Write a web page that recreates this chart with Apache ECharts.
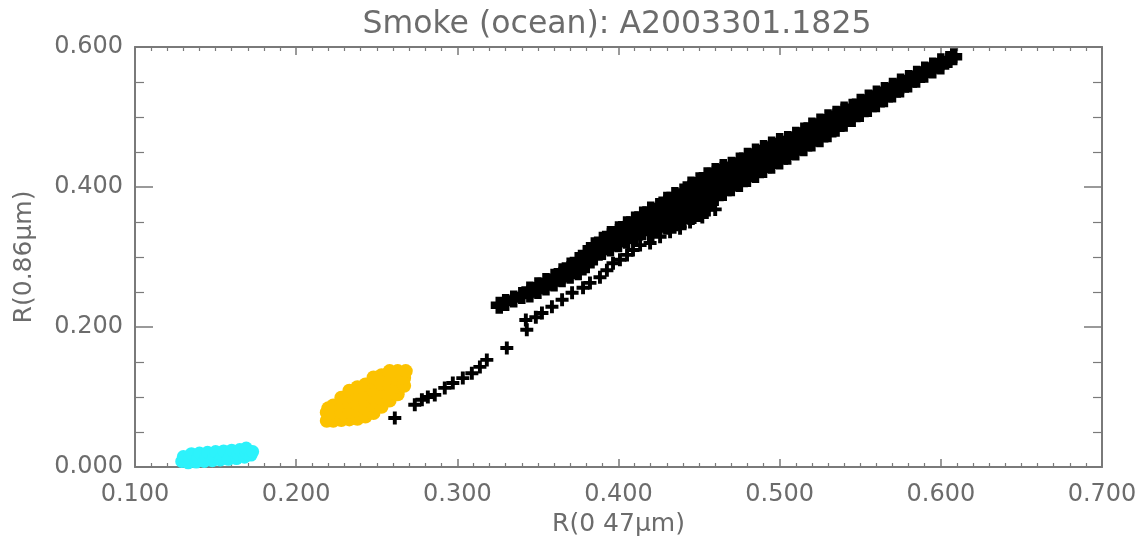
<!DOCTYPE html>
<html>
<head>
<meta charset="utf-8">
<script src="https://cdn.jsdelivr.net/npm/echarts@6/dist/echarts.min.js"></script>
<style>html,body{margin:0;padding:0;background:#fff;}#c{width:1140px;height:543px;}</style>
</head>
<body>
<div id="c"></div>
<script>
const titleText = 'Smoke (ocean): A2003301.1825';
const xName = 'R(0 47μm)';
const yName = 'R(0.86μm)';
const xTickLabels = ['0.100','0.200','0.300','0.400','0.500','0.600','0.700'];
const yTickLabels = ['0.000','0.200','0.400','0.600'];

const cyanPts = [
[0.129,0.008],[0.130,0.015],[0.133,0.006],[0.134,0.012],[0.135,0.019],
[0.138,0.007],[0.139,0.013],[0.140,0.020],[0.143,0.008],[0.144,0.014],[0.145,0.021],
[0.148,0.009],[0.149,0.015],[0.150,0.022],[0.153,0.010],[0.154,0.016],[0.155,0.023],
[0.158,0.011],[0.159,0.017],[0.160,0.024],[0.163,0.012],[0.164,0.018],[0.165,0.025],
[0.168,0.014],[0.169,0.020],[0.169,0.027],[0.172,0.017],[0.173,0.022]
];

const orangePts = [
[0.219,0.066],[0.219,0.078],[0.220,0.084],
[0.223,0.066],[0.223,0.077],[0.223,0.088],
[0.228,0.067],[0.228,0.078],[0.228,0.089],[0.228,0.099],
[0.233,0.068],[0.233,0.079],[0.233,0.090],[0.233,0.101],[0.233,0.109],
[0.238,0.069],[0.238,0.080],[0.238,0.091],[0.238,0.102],[0.238,0.114],
[0.243,0.072],[0.243,0.083],[0.243,0.094],[0.243,0.105],[0.243,0.118],
[0.248,0.077],[0.248,0.088],[0.248,0.099],[0.248,0.110],[0.248,0.121],[0.248,0.128],
[0.253,0.086],[0.253,0.097],[0.253,0.108],[0.253,0.119],[0.253,0.131],
[0.258,0.095],[0.258,0.106],[0.258,0.117],[0.258,0.128],[0.258,0.137],
[0.263,0.104],[0.263,0.115],[0.263,0.126],[0.263,0.137],
[0.267,0.116],[0.267,0.127],[0.268,0.137]
];

const blackSparse = [
[0.2612,0.070],[0.2736,0.089],[0.2780,0.096],[0.2817,0.100],[0.2860,0.103],
[0.2922,0.113],[0.2972,0.120],[0.3034,0.127],[0.3090,0.134],[0.3140,0.143],[0.3183,0.153],
[0.3307,0.170],[0.3431,0.196],[0.3425,0.210],[0.3487,0.214],[0.3525,0.220],
[0.3587,0.229],[0.3650,0.239],[0.3712,0.249],[0.3780,0.256],[0.3823,0.263],
[0.3885,0.271],[0.3928,0.281],[0.3966,0.291],[0.4009,0.296],[0.4053,0.303],
[0.4090,0.310],[0.4134,0.317],[0.4196,0.320],[0.4258,0.329],[0.4320,0.336],
[0.4382,0.341],[0.4444,0.350],[0.4520,0.357],[0.4600,0.368]
];

const blackBand = [
[0.326,0.231],[0.330,0.235],[0.335,0.240],[0.340,0.245],
[0.345,0.247],[0.345,0.253],
[0.350,0.252],[0.350,0.259],
[0.355,0.257],[0.355,0.265],
[0.360,0.263],[0.360,0.271],
[0.365,0.269],[0.365,0.274],[0.365,0.279],
[0.370,0.274],[0.370,0.282],[0.370,0.287],
[0.375,0.279],[0.375,0.287],[0.375,0.295],
[0.380,0.289],[0.380,0.297],[0.380,0.305],
[0.385,0.300],[0.385,0.308],[0.385,0.316],
[0.390,0.308],[0.390,0.316],[0.390,0.324],
[0.395,0.313],[0.395,0.321],[0.395,0.329],[0.395,0.332],
[0.400,0.319],[0.400,0.327],[0.400,0.335],[0.400,0.339],
[0.405,0.324],[0.405,0.332],[0.405,0.340],[0.405,0.346],
[0.410,0.329],[0.410,0.337],[0.410,0.345],[0.410,0.353],
[0.415,0.336],[0.415,0.344],[0.415,0.352],[0.415,0.360],
[0.420,0.335],[0.420,0.343],[0.420,0.351],[0.420,0.359],[0.420,0.367],
[0.425,0.340],[0.425,0.348],[0.425,0.356],[0.425,0.364],[0.425,0.372],
[0.430,0.344],[0.430,0.352],[0.430,0.360],[0.430,0.368],[0.430,0.376],[0.430,0.381],
[0.435,0.349],[0.435,0.357],[0.435,0.365],[0.435,0.373],[0.435,0.381],[0.435,0.388],
[0.440,0.353],[0.440,0.361],[0.440,0.369],[0.440,0.377],[0.440,0.385],[0.440,0.393],
[0.445,0.358],[0.445,0.365],[0.445,0.373],[0.445,0.381],[0.445,0.389],[0.445,0.397],[0.445,0.403],
[0.450,0.362],[0.450,0.369],[0.450,0.377],[0.450,0.385],[0.450,0.393],[0.450,0.401],[0.450,0.409],
[0.455,0.370],[0.455,0.377],[0.455,0.385],[0.455,0.393],[0.455,0.401],[0.455,0.409],[0.455,0.416],
[0.460,0.385],[0.460,0.393],[0.460,0.401],[0.460,0.409],[0.460,0.417],[0.460,0.422],
[0.465,0.392],[0.465,0.400],[0.465,0.408],[0.465,0.416],[0.465,0.424],[0.465,0.428],
[0.470,0.399],[0.470,0.407],[0.470,0.415],[0.470,0.423],[0.470,0.431],
[0.475,0.405],[0.475,0.413],[0.475,0.421],[0.475,0.429],[0.475,0.437],
[0.480,0.412],[0.480,0.420],[0.480,0.428],[0.480,0.436],[0.480,0.444],
[0.485,0.418],[0.485,0.426],[0.485,0.434],[0.485,0.442],[0.485,0.450],
[0.490,0.425],[0.490,0.433],[0.490,0.441],[0.490,0.449],[0.490,0.455],
[0.495,0.431],[0.495,0.439],[0.495,0.447],[0.495,0.455],[0.495,0.460],
[0.500,0.437],[0.500,0.445],[0.500,0.453],[0.500,0.461],[0.500,0.465],
[0.505,0.444],[0.505,0.452],[0.505,0.460],[0.505,0.468],
[0.510,0.450],[0.510,0.458],[0.510,0.466],[0.510,0.474],
[0.515,0.456],[0.515,0.464],[0.515,0.472],[0.515,0.480],
[0.520,0.463],[0.520,0.471],[0.520,0.479],[0.520,0.487],
[0.525,0.469],[0.525,0.477],[0.525,0.485],[0.525,0.493],
[0.530,0.476],[0.530,0.484],[0.530,0.492],[0.530,0.499],
[0.535,0.484],[0.535,0.492],[0.535,0.500],[0.535,0.504],
[0.540,0.491],[0.540,0.499],[0.540,0.507],[0.540,0.510],
[0.545,0.498],[0.545,0.506],[0.545,0.514],
[0.550,0.505],[0.550,0.513],[0.550,0.521],
[0.555,0.512],[0.555,0.520],[0.555,0.527],
[0.560,0.519],[0.560,0.527],[0.560,0.533],
[0.565,0.526],[0.565,0.532],[0.565,0.538],
[0.570,0.533],[0.570,0.539],[0.570,0.544],
[0.575,0.540],[0.575,0.545],[0.575,0.550],
[0.580,0.547],[0.580,0.555],
[0.585,0.554],[0.585,0.561],
[0.590,0.561],[0.590,0.567],
[0.595,0.567],[0.595,0.573],
[0.600,0.573],[0.600,0.579],
[0.605,0.582],[0.608,0.586]
];

const FONT = 'DejaVu Sans';
const TEXT = '#6c6c6c';
const AXIS = '#7a7a7a';
const plusThin = 'path://M3.5,0H6.5V3.5H10V6.5H6.5V10H3.5V6.5H0V3.5H3.5Z';
const plusBold = 'path://M2.8,0H7.2V2.8H10V7.2H7.2V10H2.8V7.2H0V2.8H2.8Z';

function xAxisCfg(pos, showLabel) {
  return {
    type: 'value', position: pos, min: 0.1, max: 0.7, interval: 0.1,
    axisLine: {show: true, onZero: false, lineStyle: {color: AXIS, width: 2}},
    axisTick: {show: true, inside: true, length: 8, lineStyle: {color: AXIS, width: 1.5}},
    minorTick: {show: true, splitNumber: 10, length: 4, lineStyle: {color: AXIS, width: 1.2}},
    splitLine: {show: false},
    axisLabel: {show: showLabel, margin: 16, fontSize: 24, color: TEXT, fontFamily: FONT,
      formatter: v => xTickLabels[Math.round((v - 0.1) / 0.1)]},
    name: showLabel ? xName : '', nameLocation: 'middle', nameGap: 42,
    nameTextStyle: {fontSize: 25, color: TEXT, fontFamily: FONT}
  };
}
function yAxisCfg(pos, showLabel) {
  return {
    type: 'value', position: pos, min: 0, max: 0.6, interval: 0.2,
    axisLine: {show: true, onZero: false, lineStyle: {color: AXIS, width: 2}},
    axisTick: {show: true, inside: true, length: 18, lineStyle: {color: AXIS, width: 1.5}},
    minorTick: {show: true, splitNumber: 4, length: 9, lineStyle: {color: AXIS, width: 1.2}},
    splitLine: {show: false},
    axisLabel: {show: showLabel, margin: 12, fontSize: 24, color: TEXT, fontFamily: FONT,
      formatter: v => yTickLabels[Math.round(v / 0.2)]},
    name: showLabel ? yName : '', nameLocation: 'middle', nameGap: 98, nameRotate: 90,
    nameTextStyle: {fontSize: 25, color: TEXT, fontFamily: FONT}
  };
}

const chart = echarts.init(document.getElementById('c'));
chart.setOption({
  animation: false,
  backgroundColor: '#ffffff',
  title: {text: titleText, left: 612, top: 4, textAlign: 'center',
    textStyle: {fontSize: 31.5, fontWeight: 'normal', color: TEXT, fontFamily: FONT}},
  grid: {left: 135, right: 38, top: 47, bottom: 76},
  xAxis: [xAxisCfg('bottom', true), xAxisCfg('top', false)],
  yAxis: [yAxisCfg('left', true), yAxisCfg('right', false)],
  series: [
    {type: 'scatter', data: cyanPts, symbol: 'circle', symbolSize: 13, itemStyle: {color: '#2cf2fb', opacity: 1}, silent: true},
    {type: 'scatter', data: orangePts, symbol: 'circle', symbolSize: 14, itemStyle: {color: '#fcc200', opacity: 1}, silent: true},
    {type: 'scatter', data: blackSparse, symbol: plusThin, symbolSize: 13, itemStyle: {color: '#000000', opacity: 1}, silent: true},
    {type: 'scatter', data: blackBand, symbol: plusBold, symbolSize: 17, itemStyle: {color: '#000000', opacity: 1}, silent: true}
  ]
});
</script>
</body>
</html>
